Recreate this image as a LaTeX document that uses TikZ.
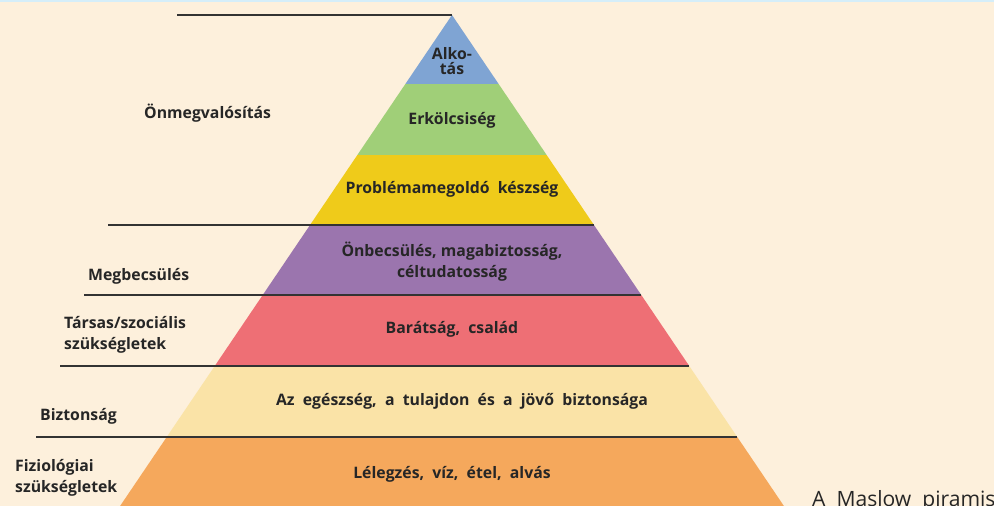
\documentclass[tikz,border=0pt]{standalone}
\usepackage{fontspec}
\setsansfont{Open Sans}
\usepackage{tikz}
\usetikzlibrary{positioning}

\definecolor{bgcream}{HTML}{FDF0DC}
\definecolor{topstrip}{HTML}{D5EEF9}
\definecolor{lvblue}{HTML}{7FA4D3}
\definecolor{lvgreen}{HTML}{A0CF78}
\definecolor{lvyellow}{HTML}{EFCB1A}
\definecolor{lvpurple}{HTML}{9B75AE}
\definecolor{lvred}{HTML}{EE6F75}
\definecolor{lvpale}{HTML}{FAE3A7}
\definecolor{lvorange}{HTML}{F5A85C}
\definecolor{sepgray}{HTML}{333333}

\tikzset{
    sepline/.style={draw=sepgray, line width=0.7pt},
    lvtext/.style={font=\sffamily\bfseries\fontsize{9}{12}\selectfont, text=black!85, align=center},
    sidetext/.style={font=\sffamily\bfseries\fontsize{9}{12}\selectfont, text=black!85, align=left, anchor=west}
}

\begin{document}
\begin{tikzpicture}[x=0.02cm, y=-0.02cm]
    \useasboundingbox (0,0) rectangle (994,506);
    \fill[bgcream] (0,0) rectangle (994,506);
    \fill[topstrip] (0,0) rectangle (994,2.5);

    \begin{scope}
        \clip (452,15) -- (120.1,506) -- (783.9,506) -- cycle;
        \fill[lvblue] (0,15) rectangle (994,84);
        \fill[lvgreen] (0,84) rectangle (994,155);
        \fill[lvyellow] (0,155) rectangle (994,225);
        \fill[lvpurple] (0,225) rectangle (994,295);
        \fill[lvred] (0,295) rectangle (994,366);
        \fill[lvpale] (0,366) rectangle (994,437);
        \fill[lvorange] (0,437) rectangle (994,506);
    \end{scope}

    \draw[sepline] (177,15) -- (452,15);
    \draw[sepline] (108,225) -- (594,225);
    \draw[sepline] (84,295) -- (641,295);
    \draw[sepline] (60,366) -- (689,366);
    \draw[sepline] (36,437) -- (737,437);

    \node[lvtext] (alkotas) at (452,61) {Alko-\\[-3pt]tás};
    \node[lvtext] (erkolcs) at (452,120) {Erkölcsiség};
    \node[lvtext] (problema) at (452,189) {Problémamegoldó\ \ készség};
    \node[lvtext] (onbecs) at (452,262) {Önbecsülés, magabiztosság,\\céltudatosság};
    \node[lvtext] (barat) at (452,329) {Barátság,\ \ család};
    \node[lvtext] (biztonsaga) at (462,401) {Az\ \ egészség,\ \ a\ \ tulajdon\ \ és\ \ a\ \ jövő\ \ biztonsága};
    \node[lvtext] (lelegzes) at (452,474) {Lélegzés,\ \ víz,\ \ étel,\ \ alvás};

    \node[sidetext] (onmegv) at (138,113) {Önmegvalósítás};
    \node[sidetext] (megbecs) at (82,276) {Megbecsülés};
    \node[sidetext] (tarsas) at (58,335) {Társas/szociális\\szükségletek};
    \node[sidetext] (bizt) at (34,416) {Biztonság};
    \node[sidetext] (fiziol) at (9,478) {Fiziológiai\\szükségletek};

    \node[font=\sffamily\fontsize{12}{14}\selectfont, text=black!85, anchor=base west] (caption) at (806,506) {A\ \ Maslow\ \ piramis};
\end{tikzpicture}
\end{document}
